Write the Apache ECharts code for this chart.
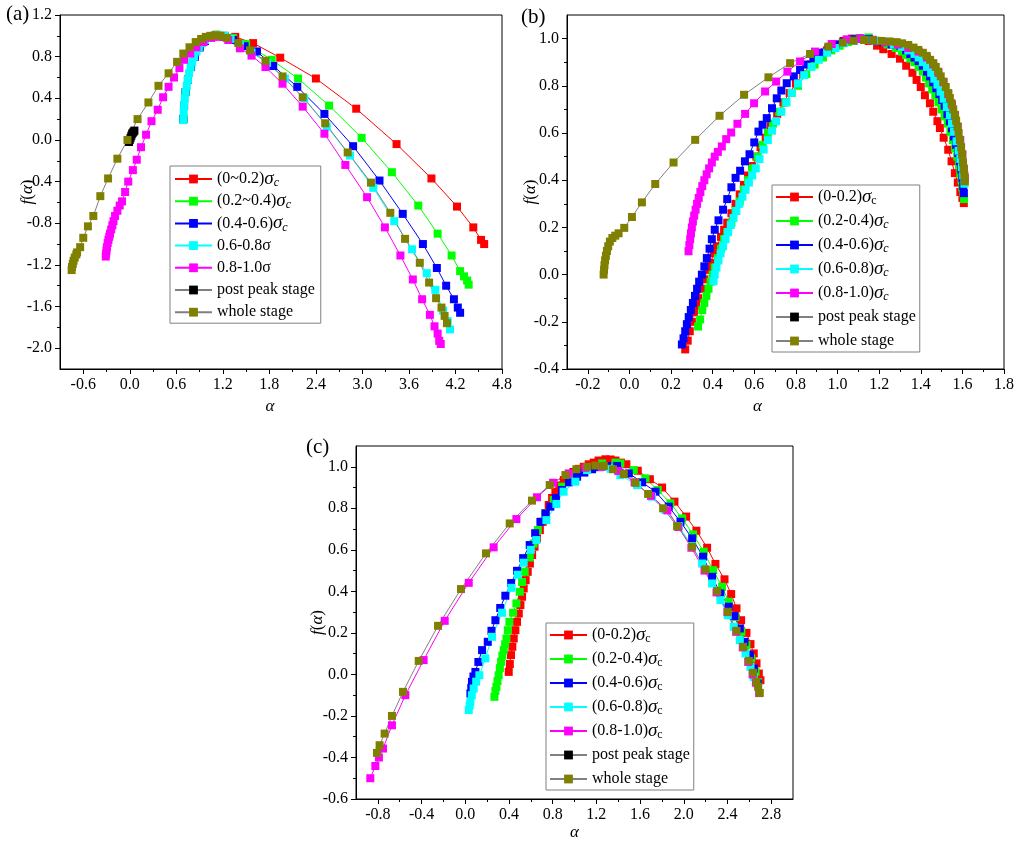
<!DOCTYPE html>
<html><head><meta charset="utf-8">
<script src="https://cdn.jsdelivr.net/npm/echarts@6/dist/echarts.min.js"></script>
<style>html,body{margin:0;padding:0;background:#fff}#c{width:1017px;height:844px}</style>
</head><body><div id="c"></div>
<script>
// ---------- tick values ----------
const aXTicks = [-0.6,0,0.6,1.2,1.8,2.4,3.0,3.6,4.2,4.8];
const aXMinor = [-0.3,0.3,0.9,1.5,2.1,2.7,3.3,3.9,4.5];
const aYTicks = [-2.0,-1.6,-1.2,-0.8,-0.4,0,0.4,0.8,1.2];
const aYMinor = [-1.8,-1.4,-1.0,-0.6,-0.2,0.2,0.6,1.0];
const bXTicks = [-0.2,0,0.2,0.4,0.6,0.8,1.0,1.2,1.4,1.6,1.8];
const bXMinor = [-0.1,0.1,0.3,0.5,0.7,0.9,1.1,1.3,1.5,1.7];
const bYTicks = [-0.4,-0.2,0,0.2,0.4,0.6,0.8,1.0];
const bYMinor = [-0.3,-0.1,0.1,0.3,0.5,0.7,0.9];
const cXTicks = [-0.8,-0.4,0,0.4,0.8,1.2,1.6,2.0,2.4,2.8];
const cXMinor = [-0.6,-0.2,0.2,0.6,1.0,1.4,1.8,2.2,2.6];
const cYTicks = [-0.6,-0.4,-0.2,0,0.2,0.4,0.6,0.8,1.0];
const cYMinor = [-0.5,-0.3,-0.1,0.1,0.3,0.5,0.7,0.9];

// ---------- legend labels ----------
const aNames = ['(0~0.2){s|σ}{c|c}','(0.2~0.4){s|σ}{c|c}','(0.4-0.6){s|σ}{c|c}','0.6-0.8σ','0.8-1.0σ','post peak stage','whole stage'];
const bNames = ['(0-0.2){s|σ}{cu|c}','(0.2-0.4){s|σ}{c|c}','(0.4-0.6){s|σ}{c|c}','(0.6-0.8){s|σ}{c|c}','(0.8-1.0){s|σ}{c|c}','post peak stage','whole stage'];
const cNames = ['(0-0.2){s|σ}{cu|c}','(0.2-0.4){s|σ}{cu|c}','(0.4-0.6){s|σ}{cu|c}','(0.6-0.8){s|σ}{cu|c}','(0.8-1.0){s|σ}{cu|c}','post peak stage','whole stage'];

// ---------- panel (a) data [alpha, f(alpha)] ----------
const aRed = [[0.69,0.2],[0.70,0.33],[0.72,0.46],[0.75,0.58],[0.79,0.70],[0.84,0.80],[0.90,0.89],[0.97,0.95],[1.04,0.99],[1.12,1.01],[1.22,1.0],[1.36,0.99],[1.59,0.93],[1.94,0.79],[2.40,0.59],[2.92,0.30],[3.44,-0.04],[3.89,-0.37],[4.22,-0.64],[4.43,-0.84],[4.53,-0.96],[4.57,-1.0]];
const aGreen = [[0.69,0.2],[0.70,0.33],[0.72,0.46],[0.75,0.58],[0.79,0.70],[0.84,0.80],[0.90,0.89],[0.97,0.95],[1.04,0.99],[1.12,1.01],[1.22,1.0],[1.33,0.98],[1.50,0.92],[1.83,0.77],[2.17,0.59],[2.57,0.33],[2.99,0.02],[3.38,-0.31],[3.72,-0.63],[3.97,-0.90],[4.15,-1.11],[4.26,-1.26],[4.31,-1.31],[4.35,-1.35],[4.37,-1.39]];
const aBlue = [[0.69,0.2],[0.70,0.33],[0.72,0.46],[0.75,0.58],[0.79,0.70],[0.84,0.80],[0.90,0.89],[0.97,0.95],[1.04,0.99],[1.12,1.0],[1.22,0.99],[1.33,0.96],[1.48,0.90],[1.64,0.85],[1.85,0.71],[2.16,0.51],[2.51,0.25],[2.88,-0.06],[3.22,-0.39],[3.52,-0.71],[3.78,-1.0],[3.96,-1.23],[4.08,-1.40],[4.18,-1.53],[4.23,-1.61],[4.26,-1.66]];
const aCyan = [[0.69,0.19],[0.695,0.26],[0.70,0.33],[0.71,0.40],[0.72,0.46],[0.735,0.52],[0.75,0.58],[0.765,0.64],[0.785,0.70],[0.805,0.75],[0.83,0.80],[0.86,0.85],[0.89,0.89],[0.93,0.93],[0.97,0.96],[1.02,0.985],[1.08,1.0],[1.15,1.005],[1.22,1.0],[1.30,0.97],[1.42,0.91],[1.57,0.84],[1.77,0.74],[2.0,0.59],[2.25,0.40],[2.54,0.13],[2.84,-0.15],[3.14,-0.46],[3.41,-0.78],[3.64,-1.05],[3.83,-1.28],[3.94,-1.44],[4.04,-1.64],[4.10,-1.74],[4.13,-1.82]];
const aMagenta = [[-0.31,-1.12],[-0.305,-1.09],[-0.30,-1.06],[-0.295,-1.03],[-0.285,-0.99],[-0.275,-0.96],[-0.265,-0.93],[-0.255,-0.90],[-0.24,-0.86],[-0.225,-0.82],[-0.21,-0.78],[-0.19,-0.73],[-0.16,-0.68],[-0.13,-0.63],[-0.10,-0.59],[-0.06,-0.50],[-0.02,-0.40],[0.04,-0.29],[0.09,-0.19],[0.145,-0.07],[0.21,0.05],[0.28,0.18],[0.36,0.29],[0.43,0.41],[0.50,0.51],[0.57,0.60],[0.64,0.69],[0.70,0.77],[0.78,0.83],[0.86,0.89],[0.95,0.94],[1.05,0.98],[1.15,0.99],[1.27,0.96],[1.42,0.88],[1.57,0.81],[1.75,0.70],[1.97,0.54],[2.23,0.32],[2.51,0.06],[2.78,-0.24],[3.06,-0.55],[3.29,-0.84],[3.49,-1.11],[3.65,-1.34],[3.77,-1.53],[3.87,-1.68],[3.93,-1.79],[3.97,-1.86],[3.99,-1.93],[4.01,-1.96]];
const aBlack = [[-0.01,-0.02],[0.0,0.0],[0.01,0.02],[0.02,0.04],[0.03,0.06],[0.04,0.07],[0.05,0.08],[0.06,0.09]];
const aOlive = [[-0.75,-1.25],[-0.745,-1.22],[-0.735,-1.19],[-0.725,-1.16],[-0.71,-1.13],[-0.69,-1.10],[-0.68,-1.08],[-0.64,-1.03],[-0.60,-0.94],[-0.54,-0.83],[-0.47,-0.73],[-0.38,-0.54],[-0.28,-0.37],[-0.16,-0.18],[-0.03,0.0],[0.10,0.20],[0.24,0.36],[0.37,0.52],[0.50,0.64],[0.61,0.75],[0.69,0.83],[0.77,0.89],[0.85,0.94],[0.92,0.97],[0.98,0.99],[1.04,1.0],[1.10,1.005],[1.17,1.0],[1.25,0.98],[1.40,0.93],[1.55,0.86],[1.75,0.76],[1.97,0.61],[2.23,0.41],[2.52,0.16],[2.81,-0.12],[3.11,-0.41],[3.36,-0.70],[3.55,-0.95],[3.74,-1.18],[3.86,-1.37],[3.95,-1.52],[4.02,-1.61],[4.06,-1.69],[4.09,-1.76]];

// ---------- panel (b) data ----------
const bRed = [[0.268,-0.317],[0.28,-0.28],[0.29,-0.24],[0.30,-0.20],[0.31,-0.16],[0.32,-0.13],[0.33,-0.10],[0.345,-0.06],[0.36,-0.02],[0.375,0.02],[0.39,0.05],[0.405,0.09],[0.42,0.12],[0.44,0.16],[0.455,0.19],[0.47,0.22],[0.49,0.26],[0.51,0.30],[0.53,0.34],[0.55,0.38],[0.57,0.42],[0.59,0.46],[0.61,0.50],[0.63,0.54],[0.655,0.58],[0.68,0.63],[0.71,0.68],[0.74,0.73],[0.77,0.77],[0.80,0.81],[0.835,0.85],[0.87,0.89],[0.91,0.92],[0.95,0.95],[0.99,0.975],[1.03,0.99],[1.07,1.0],[1.11,1.0],[1.15,0.99],[1.19,0.97],[1.22,0.955],[1.26,0.935],[1.30,0.915],[1.33,0.885],[1.36,0.855],[1.38,0.825],[1.40,0.795],[1.42,0.76],[1.444,0.726],[1.46,0.69],[1.48,0.65],[1.492,0.621],[1.51,0.58],[1.532,0.529],[1.548,0.48],[1.564,0.43],[1.578,0.39],[1.59,0.35],[1.60,0.325],[1.607,0.303]];
const bGreen = [[0.33,-0.22],[0.34,-0.19],[0.35,-0.15],[0.36,-0.12],[0.37,-0.09],[0.38,-0.06],[0.39,-0.03],[0.40,0.0],[0.41,0.03],[0.425,0.07],[0.44,0.11],[0.455,0.15],[0.47,0.18],[0.49,0.22],[0.51,0.27],[0.53,0.31],[0.55,0.36],[0.57,0.40],[0.59,0.45],[0.615,0.50],[0.64,0.55],[0.665,0.60],[0.69,0.64],[0.72,0.69],[0.75,0.73],[0.78,0.77],[0.81,0.80],[0.85,0.85],[0.89,0.89],[0.93,0.92],[0.97,0.95],[1.01,0.97],[1.05,0.985],[1.10,1.0],[1.15,1.005],[1.20,0.99],[1.24,0.975],[1.28,0.96],[1.31,0.945],[1.33,0.93],[1.35,0.915],[1.37,0.90],[1.39,0.88],[1.41,0.86],[1.425,0.835],[1.44,0.81],[1.455,0.785],[1.47,0.76],[1.485,0.73],[1.50,0.70],[1.515,0.67],[1.53,0.64],[1.543,0.605],[1.555,0.57],[1.565,0.535],[1.575,0.50],[1.583,0.465],[1.59,0.43],[1.596,0.40],[1.60,0.37],[1.605,0.345],[1.608,0.32]];
const bBlue = [[0.252,-0.296],[0.26,-0.27],[0.268,-0.24],[0.276,-0.21],[0.285,-0.18],[0.295,-0.15],[0.305,-0.12],[0.315,-0.09],[0.325,-0.06],[0.335,-0.03],[0.348,0.0],[0.36,0.035],[0.372,0.07],[0.385,0.11],[0.396,0.15],[0.41,0.19],[0.428,0.23],[0.45,0.275],[0.47,0.32],[0.49,0.37],[0.51,0.41],[0.532,0.44],[0.555,0.48],[0.577,0.51],[0.60,0.56],[0.62,0.606],[0.64,0.635],[0.66,0.663],[0.685,0.705],[0.708,0.747],[0.73,0.78],[0.756,0.811],[0.79,0.84],[0.82,0.867],[0.85,0.89],[0.884,0.917],[0.92,0.94],[0.956,0.959],[0.99,0.975],[1.028,0.987],[1.07,0.997],[1.11,1.0],[1.15,0.998],[1.19,0.99],[1.22,0.985],[1.26,0.975],[1.30,0.97],[1.33,0.95],[1.35,0.935],[1.37,0.92],[1.39,0.905],[1.41,0.885],[1.43,0.86],[1.445,0.84],[1.46,0.815],[1.475,0.79],[1.49,0.765],[1.503,0.74],[1.515,0.715],[1.528,0.68],[1.54,0.65],[1.55,0.62],[1.56,0.585],[1.57,0.55],[1.58,0.515],[1.588,0.48],[1.595,0.445],[1.60,0.41],[1.604,0.375],[1.607,0.345]];
const bCyan = [[0.404,-0.028],[0.41,0.0],[0.418,0.03],[0.428,0.06],[0.438,0.09],[0.45,0.12],[0.462,0.15],[0.474,0.18],[0.487,0.21],[0.50,0.24],[0.514,0.27],[0.528,0.30],[0.543,0.33],[0.558,0.36],[0.574,0.39],[0.59,0.42],[0.607,0.45],[0.625,0.49],[0.645,0.53],[0.665,0.57],[0.685,0.61],[0.705,0.65],[0.73,0.69],[0.755,0.73],[0.78,0.77],[0.81,0.81],[0.84,0.845],[0.875,0.88],[0.91,0.91],[0.95,0.94],[0.99,0.96],[1.03,0.98],[1.08,0.99],[1.13,0.995],[1.18,0.992],[1.23,0.985],[1.27,0.975],[1.31,0.965],[1.34,0.95],[1.37,0.935],[1.39,0.92],[1.41,0.90],[1.43,0.88],[1.45,0.855],[1.465,0.83],[1.48,0.805],[1.495,0.775],[1.51,0.745],[1.525,0.71],[1.54,0.675],[1.55,0.64],[1.56,0.605],[1.572,0.565],[1.582,0.525],[1.59,0.49],[1.598,0.455],[1.604,0.42],[1.61,0.385]];
const bMagenta = [[0.284,0.099],[0.288,0.125],[0.292,0.15],[0.296,0.175],[0.30,0.20],[0.305,0.225],[0.311,0.25],[0.318,0.275],[0.325,0.30],[0.333,0.325],[0.341,0.35],[0.35,0.375],[0.36,0.40],[0.371,0.425],[0.383,0.45],[0.396,0.475],[0.41,0.50],[0.425,0.52],[0.444,0.543],[0.465,0.574],[0.489,0.602],[0.519,0.639],[0.556,0.681],[0.599,0.726],[0.652,0.776],[0.705,0.818],[0.759,0.86],[0.82,0.903],[0.892,0.945],[0.972,0.977],[1.044,0.997],[1.11,1.0],[1.17,0.995],[1.23,0.985],[1.29,0.975],[1.34,0.96],[1.39,0.945],[1.43,0.92],[1.46,0.89],[1.485,0.855],[1.51,0.815],[1.532,0.765],[1.55,0.72],[1.565,0.675],[1.578,0.625],[1.59,0.57],[1.6,0.51],[1.607,0.45],[1.612,0.41]];
const bBlack = [];
const bOlive = [[-0.124,0.0],[-0.122,0.02],[-0.12,0.04],[-0.117,0.06],[-0.113,0.08],[-0.108,0.10],[-0.102,0.12],[-0.094,0.14],[-0.082,0.155],[-0.068,0.165],[-0.052,0.175],[-0.025,0.198],[0.012,0.244],[0.06,0.306],[0.124,0.384],[0.212,0.475],[0.316,0.571],[0.433,0.673],[0.551,0.762],[0.668,0.836],[0.772,0.896],[0.868,0.935],[0.956,0.966],[1.025,0.983],[1.076,0.991],[1.127,0.994],[1.17,0.993],[1.212,0.99],[1.25,0.988],[1.284,0.985],[1.31,0.98],[1.34,0.973],[1.365,0.962],[1.388,0.952],[1.41,0.94],[1.428,0.927],[1.445,0.91],[1.46,0.896],[1.472,0.88],[1.484,0.86],[1.496,0.84],[1.508,0.818],[1.52,0.795],[1.532,0.769],[1.54,0.748],[1.548,0.726],[1.556,0.70],[1.564,0.677],[1.57,0.652],[1.577,0.628],[1.582,0.60],[1.588,0.571],[1.594,0.54],[1.599,0.508],[1.603,0.476],[1.607,0.444],[1.61,0.42],[1.612,0.395]];

// ---------- panel (c) data ----------
const cRed = [[0.398,0.012],[0.408,0.05],[0.419,0.093],[0.431,0.133],[0.444,0.173],[0.459,0.213],[0.474,0.253],[0.49,0.293],[0.505,0.334],[0.52,0.374],[0.535,0.414],[0.553,0.454],[0.572,0.494],[0.592,0.534],[0.612,0.575],[0.634,0.615],[0.657,0.655],[0.683,0.695],[0.709,0.735],[0.736,0.776],[0.764,0.816],[0.795,0.85],[0.825,0.88],[0.862,0.91],[0.902,0.936],[0.945,0.958],[0.99,0.975],[1.04,0.99],[1.085,1.0],[1.13,1.012],[1.176,1.02],[1.22,1.03],[1.283,1.036],[1.33,1.035],[1.375,1.03],[1.425,1.02],[1.475,1.012],[1.579,0.981],[1.69,0.94],[1.802,0.90],[1.915,0.832],[2.022,0.76],[2.116,0.692],[2.214,0.61],[2.29,0.532],[2.373,0.458],[2.434,0.387],[2.483,0.318],[2.525,0.261],[2.574,0.20],[2.611,0.146],[2.641,0.101],[2.666,0.053],[2.687,0.004],[2.702,-0.028]];
const cGreen = [[0.267,-0.108],[0.276,-0.08],[0.285,-0.06],[0.295,-0.032],[0.306,-0.004],[0.317,0.03],[0.328,0.061],[0.34,0.09],[0.352,0.117],[0.365,0.145],[0.377,0.173],[0.39,0.213],[0.404,0.253],[0.438,0.297],[0.468,0.342],[0.499,0.398],[0.52,0.445],[0.544,0.494],[0.59,0.563],[0.625,0.63],[0.664,0.695],[0.734,0.775],[0.81,0.84],[0.886,0.904],[0.993,0.96],[1.115,0.992],[1.253,1.016],[1.375,1.02],[1.42,1.016],[1.542,0.984],[1.649,0.944],[1.762,0.888],[1.878,0.824],[1.985,0.751],[2.086,0.674],[2.183,0.591],[2.269,0.502],[2.351,0.422],[2.412,0.35],[2.473,0.277],[2.528,0.205],[2.574,0.141],[2.617,0.077],[2.657,0.012],[2.681,-0.036]];
const cBlue = [[0.047,-0.092],[0.055,-0.065],[0.062,-0.036],[0.075,-0.01],[0.093,0.012],[0.12,0.06],[0.154,0.117],[0.206,0.157],[0.24,0.21],[0.276,0.261],[0.32,0.32],[0.367,0.379],[0.42,0.44],[0.474,0.499],[0.53,0.56],[0.59,0.623],[0.64,0.68],[0.688,0.735],[0.735,0.775],[0.779,0.808],[0.83,0.85],[0.886,0.888],[0.95,0.925],[1.024,0.952],[1.09,0.972],[1.161,0.988],[1.23,0.998],[1.298,1.004],[1.39,1.004],[1.497,0.968],[1.619,0.925],[1.741,0.88],[1.863,0.808],[1.97,0.735],[2.077,0.655],[2.177,0.567],[2.26,0.47],[2.336,0.39],[2.412,0.326],[2.464,0.281],[2.513,0.221],[2.556,0.157],[2.605,0.093],[2.641,0.028],[2.678,-0.044]];
const cCyan = [[0.032,-0.172],[0.04,-0.15],[0.047,-0.132],[0.06,-0.10],[0.077,-0.068],[0.10,-0.035],[0.129,-0.004],[0.184,0.077],[0.245,0.181],[0.337,0.297],[0.422,0.417],[0.48,0.48],[0.535,0.538],[0.60,0.60],[0.651,0.647],[0.743,0.743],[0.834,0.821],[0.90,0.88],[1.008,0.928],[1.115,0.984],[1.252,1.0],[1.33,0.99],[1.42,0.96],[1.573,0.912],[1.71,0.856],[1.832,0.792],[1.954,0.714],[2.077,0.618],[2.168,0.534],[2.26,0.438],[2.336,0.358],[2.403,0.285],[2.458,0.229],[2.513,0.165],[2.565,0.101],[2.611,0.036],[2.641,-0.012]];
const cMagenta = [[-0.869,-0.50],[-0.823,-0.441],[-0.79,-0.40],[-0.753,-0.357],[-0.671,-0.245],[-0.548,-0.10],[-0.381,0.069],[-0.188,0.258],[0.032,0.441],[0.26,0.612],[0.468,0.748],[0.657,0.853],[0.804,0.923],[0.947,0.968],[1.10,0.995],[1.25,1.0],[1.40,0.98],[1.55,0.925],[1.70,0.86],[1.85,0.79],[1.95,0.71],[2.07,0.61],[2.19,0.50],[2.30,0.395],[2.40,0.30],[2.48,0.205],[2.54,0.13],[2.59,0.06],[2.63,0.0],[2.66,-0.04],[2.69,-0.09]];
const cBlack = [];
const cOlive = [[-0.808,-0.378],[-0.784,-0.341],[-0.738,-0.285],[-0.671,-0.20],[-0.57,-0.084],[-0.426,0.065],[-0.249,0.234],[-0.039,0.411],[0.19,0.583],[0.407,0.727],[0.611,0.837],[0.773,0.912],[0.917,0.96],[1.017,0.988],[1.115,1.0],[1.191,1.006],[1.268,1.004],[1.353,0.988],[1.451,0.965],[1.558,0.923],[1.674,0.869],[1.811,0.80],[1.939,0.714],[2.077,0.615],[2.199,0.506],[2.306,0.401],[2.403,0.302],[2.483,0.21],[2.544,0.133],[2.596,0.065],[2.635,0.008],[2.666,-0.036],[2.681,-0.06],[2.696,-0.089]];

// ---------- styling ----------
const FONT = 'Liberation Serif';
const COLORS = ['#ff0000','#00ff00','#0000ff','#00ffff','#ff00ff','#000000','#808000'];
const LINECOLORS = ['#ff0000','#00ff00','#0000ff','#00ffff','#ff00ff','#808080','#808080'];
const fmt = v => (Math.abs(v) < 1e-9 ? 0 : v).toFixed(1);

function axes(dim, gi, min, max, interval, majors, minors, name, nameGap, namePad) {
  const pos = dim === 'x' ? 'bottom' : 'left';
  const main = {
    type: 'value', gridIndex: gi, position: pos, min, max, interval,
    axisLine: { show: true, onZero: false, lineStyle: { color: '#000', width: 1 } },
    axisTick: { show: true, customValues: majors, length: 5, inside: false, lineStyle: { color: '#000', width: 1 } },
    axisLabel: { show: true, customValues: majors, formatter: fmt, color: '#000', fontFamily: FONT, fontSize: 16, margin: 8 },
    splitLine: { show: false },
    name, nameLocation: 'middle', nameGap,
    nameTextStyle: dim === 'x'
      ? { fontFamily: FONT, fontSize: 17, fontStyle: 'italic', color: '#000', padding: namePad }
      : { fontFamily: FONT, fontSize: 17, color: '#000', rich: { i: { fontFamily: FONT, fontSize: 17, fontStyle: 'italic', color: '#000' } } }
  };
  if (dim === 'y') main.nameMoveOverlap = false;
  const minor = {
    type: 'value', gridIndex: gi, position: pos, min, max, interval,
    axisLine: { show: false, onZero: false },
    axisTick: { show: true, customValues: minors, length: 3, inside: false, lineStyle: { color: '#000', width: 1 } },
    axisLabel: { show: false },
    splitLine: { show: false }
  };
  return [main, minor];
}

const xAxis = [
  ...axes('x', 0, -0.9, 4.8, 0.3, aXTicks, aXMinor, 'α', 29, [0, 22, 0, 0]),
  ...axes('x', 1, -0.3, 1.8, 0.1, bXTicks, bXMinor, 'α', 29, [0, 56, 0, 0]),
  ...axes('x', 2, -1.0, 3.0, 0.2, cXTicks, cXMinor, 'α', 25, [0, 0, 0, 0])
];
const yAxis = [
  ...axes('y', 0, -2.2, 1.2, 0.2, aYTicks, aYMinor, '{i|f}({i|α})', 24),
  ...axes('y', 1, -0.4, 1.1, 0.1, bYTicks, bYMinor, '{i|f}({i|α})', 28),
  ...axes('y', 2, -0.6, 1.1, 0.1, cYTicks, cYMinor, '{i|f}({i|α})', 30)
];

function mk(prefix, arrs, ai) {
  return arrs.map((d, i) => ({
    name: prefix + i, type: 'line', xAxisIndex: ai, yAxisIndex: ai, data: d,
    symbol: 'rect', symbolSize: 8, showSymbol: true,
    itemStyle: { color: COLORS[i] },
    lineStyle: { color: LINECOLORS[i], width: 1 },
    emphasis: { disabled: true }, silent: true
  }));
}
const series = [
  ...mk('a', [aRed, aGreen, aBlue, aCyan, aMagenta, aBlack, aOlive], 0),
  ...mk('b', [bRed, bGreen, bBlue, bCyan, bMagenta, bBlack, bOlive], 2),
  ...mk('c', [cRed, cGreen, cBlue, cCyan, cMagenta, cBlack, cOlive], 4)
];

const labelMap = {};
[['a', aNames], ['b', bNames], ['c', cNames]].forEach(([p, arr]) => arr.forEach((t, i) => labelMap[p + i] = t));

const legendText = {
  fontFamily: FONT, fontSize: 16, color: '#000', lineHeight: 20,
  rich: {
    s: { fontFamily: FONT, fontSize: 19, fontStyle: 'italic', color: '#000', lineHeight: 20 },
    c: { fontFamily: FONT, fontSize: 12, fontStyle: 'italic', color: '#000', verticalAlign: 'bottom', lineHeight: 13 },
    cu: { fontFamily: FONT, fontSize: 12, color: '#000', verticalAlign: 'bottom', lineHeight: 13 }
  }
};
function legend(p, left, top, gap, pad) {
  return {
    data: [0,1,2,3,4,5,6].map(i => p + i), orient: 'vertical', left, top,
    itemWidth: 37, itemHeight: 11, itemGap: gap, padding: pad,
    backgroundColor: '#fff', borderColor: '#808080', borderWidth: 1, borderRadius: 0,
    formatter: n => labelMap[n], textStyle: legendText, selectedMode: false
  };
}

const titleStyle = { fontFamily: FONT, fontSize: 21, fontWeight: 'normal', color: '#000' };
const option = {
  animation: false,
  backgroundColor: '#fff',
  title: [
    { text: '(a)', left: 6, top: 4, padding: 0, textStyle: titleStyle },
    { text: '(b)', left: 521, top: 7, padding: 0, textStyle: titleStyle },
    { text: '(c)', left: 306, top: 437, padding: 0, textStyle: titleStyle }
  ],
  grid: [
    { left: 60, top: 15, width: 442, height: 354, show: true, borderColor: '#000', borderWidth: 1, backgroundColor: 'transparent', outerBoundsMode: 'none' },
    { left: 567, top: 15, width: 437, height: 354, show: true, borderColor: '#000', borderWidth: 1, backgroundColor: 'transparent', outerBoundsMode: 'none' },
    { left: 356, top: 446, width: 437, height: 353, show: true, borderColor: '#000', borderWidth: 1, backgroundColor: 'transparent', outerBoundsMode: 'none' }
  ],
  legend: [
    legend('a', 170, 166, 2.2, [3, 6, 1, 4]),
    legend('b', 772, 185, 4, [2, 4, 1, 3]),
    legend('c', 546, 623, 4, [2, 4, 1, 3])
  ],
  xAxis, yAxis, series
};
const chart = echarts.init(document.getElementById('c'), null, { renderer: 'canvas' });
chart.setOption(option);
</script>
</body></html>
